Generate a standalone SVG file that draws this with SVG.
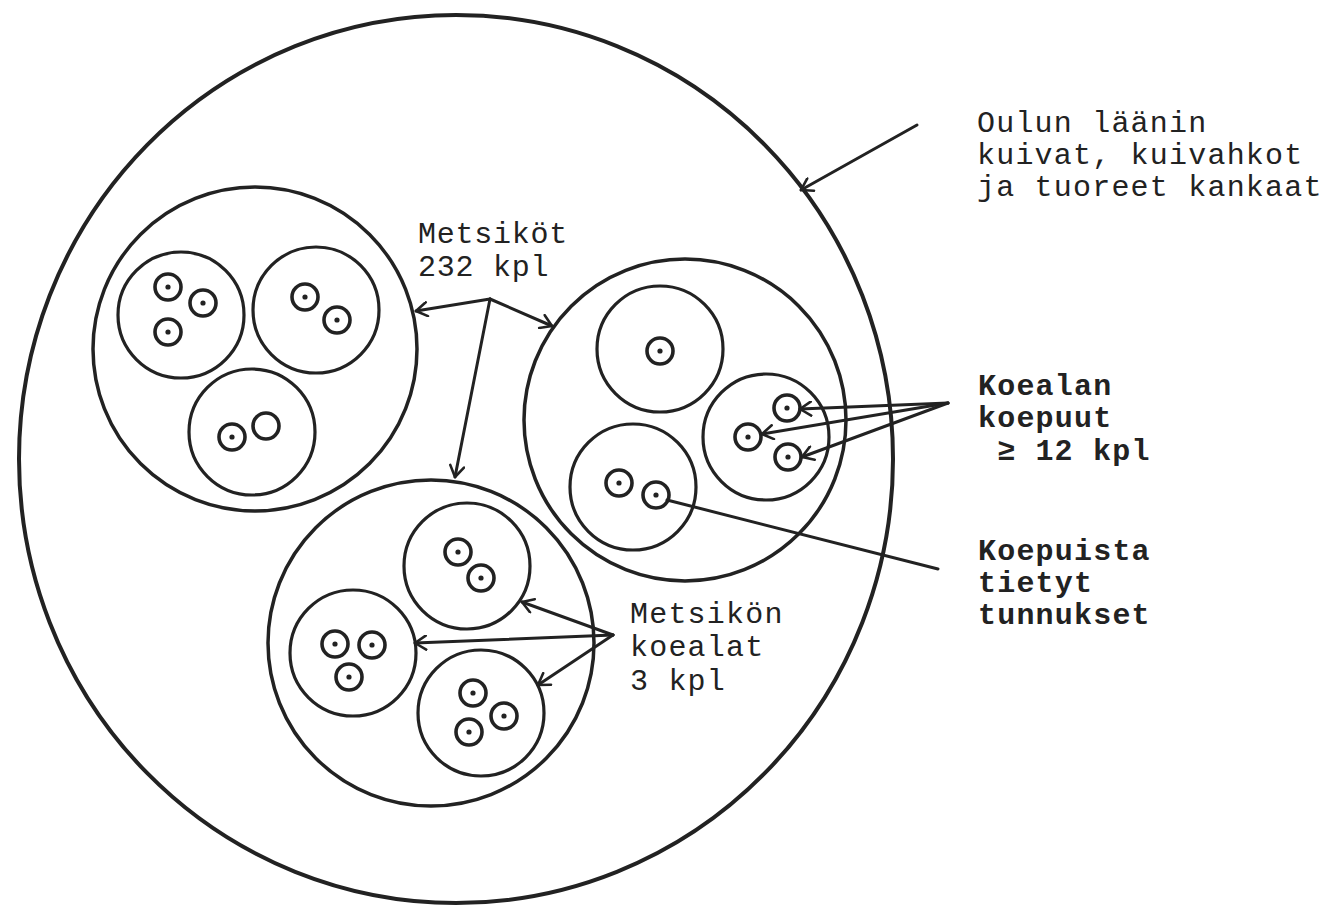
<svg xmlns="http://www.w3.org/2000/svg" xmlns:xlink="http://www.w3.org/1999/xlink" width="1332" height="905" viewBox="0 0 1332 905">
<style>
.c0{fill:none;stroke:#222;stroke-width:4}
.c1{fill:none;stroke:#222;stroke-width:3.5}
.c2{fill:none;stroke:#222;stroke-width:3.2}
.ln{fill:none;stroke:#222;stroke-width:3;stroke-linecap:round}
.t{font-family:"Liberation Mono","Courier New",monospace;font-size:30px;fill:#222;letter-spacing:1.2px}
.b{font-weight:bold}
</style>
<defs>
<marker id="ah" markerUnits="userSpaceOnUse" markerWidth="16" markerHeight="16" viewBox="0 0 16 16" refX="14" refY="8" orient="auto">
<path d="M3,1 L14,8 L3,15" fill="none" stroke="#222" stroke-width="2.6" stroke-linecap="round" stroke-linejoin="round"/>
</marker>
<g id="tree"><circle r="13" fill="#fff" stroke="#222" stroke-width="3.6"/><circle r="2.6" fill="#222"/></g>
<g id="tree0"><circle r="13" fill="#fff" stroke="#222" stroke-width="3.6"/></g>
</defs>
<rect width="1332" height="905" fill="#fff"/>
<g id="region">
<ellipse class="c0" cx="456" cy="459" rx="437" ry="444"/>
</g>
<g id="standA">
<circle class="c1" cx="255" cy="349" r="162"/>
<g id="plotA1"><circle class="c2" cx="181" cy="315" r="63"/><use xlink:href="#tree" x="168" y="287"/><use xlink:href="#tree" x="203" y="303"/><use xlink:href="#tree" x="168" y="332"/></g>
<g id="plotA2"><circle class="c2" cx="316" cy="310" r="63"/><use xlink:href="#tree" x="305" y="297"/><use xlink:href="#tree" x="337" y="320"/></g>
<g id="plotA3"><circle class="c2" cx="252" cy="432" r="63"/><use xlink:href="#tree" x="232" y="437"/><use xlink:href="#tree0" x="266" y="426"/></g>
</g>
<g id="standB">
<circle class="c1" cx="685" cy="420" r="161"/>
<g id="plotB1"><circle class="c2" cx="660" cy="349" r="63"/><use xlink:href="#tree" x="660" y="351"/></g>
<g id="plotB2"><circle class="c2" cx="766" cy="437" r="63"/><use xlink:href="#tree" x="787" y="408"/><use xlink:href="#tree" x="748" y="437"/><use xlink:href="#tree" x="788" y="457"/></g>
<g id="plotB3"><circle class="c2" cx="633" cy="487" r="63"/><use xlink:href="#tree" x="619" y="483"/><use xlink:href="#tree" x="656" y="495"/></g>
</g>
<g id="standC">
<circle class="c1" cx="431" cy="643" r="163"/>
<g id="plotC1"><circle class="c2" cx="467" cy="566" r="63"/><use xlink:href="#tree" x="458" y="552"/><use xlink:href="#tree" x="481" y="578"/></g>
<g id="plotC2"><circle class="c2" cx="353" cy="653" r="63"/><use xlink:href="#tree" x="335" y="644"/><use xlink:href="#tree" x="372" y="645"/><use xlink:href="#tree" x="349" y="677"/></g>
<g id="plotC3"><circle class="c2" cx="481" cy="713" r="63"/><use xlink:href="#tree" x="473" y="693"/><use xlink:href="#tree" x="504" y="716"/><use xlink:href="#tree" x="469" y="732"/></g>
</g>
<g id="connectors">
<line class="ln" x1="917" y1="125" x2="801" y2="190" marker-end="url(#ah)"/>
<line class="ln" x1="490" y1="299" x2="416" y2="311" marker-end="url(#ah)"/>
<line class="ln" x1="490" y1="299" x2="552" y2="326" marker-end="url(#ah)"/>
<line class="ln" x1="490" y1="299" x2="455" y2="477" marker-end="url(#ah)"/>
<line class="ln" x1="613" y1="635" x2="522" y2="602" marker-end="url(#ah)"/>
<line class="ln" x1="613" y1="635" x2="415" y2="643" marker-end="url(#ah)"/>
<line class="ln" x1="613" y1="635" x2="538" y2="685" marker-end="url(#ah)"/>
<line class="ln" x1="948" y1="403" x2="800" y2="409" marker-end="url(#ah)"/>
<line class="ln" x1="948" y1="403" x2="762" y2="434" marker-end="url(#ah)"/>
<line class="ln" x1="948" y1="403" x2="802" y2="457" marker-end="url(#ah)"/>
<line class="ln" x1="667" y1="500" x2="938" y2="569"/>
</g>
<g id="labels">
<text class="t" x="977" y="132">Oulun läänin</text>
<text class="t" x="977" y="164">kuivat, kuivahkot</text>
<text class="t" x="977" y="196">ja tuoreet kankaat</text>
<text class="t" x="418" y="243" style="letter-spacing:0.75px">Metsiköt</text>
<text class="t" x="418" y="276" style="letter-spacing:0.75px">232 kpl</text>
<text class="t" x="630" y="623">Metsikön</text>
<text class="t" x="630" y="656">koealat</text>
<text class="t" x="630" y="690">3 kpl</text>
<text class="t b" x="978" y="395">Koealan</text>
<text class="t b" x="978" y="427">koepuut</text>
<text class="t b" x="997" y="460">≥ 12 kpl</text>
<text class="t b" x="978" y="560">Koepuista</text>
<text class="t b" x="978" y="592">tietyt</text>
<text class="t b" x="978" y="624">tunnukset</text>
</g>
</svg>
